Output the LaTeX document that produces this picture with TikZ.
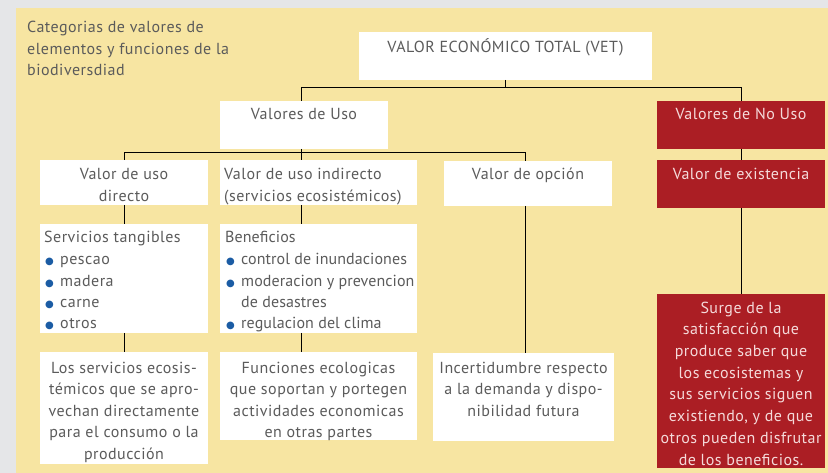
\documentclass[tikz,border=0pt]{standalone}
\usepackage{fontspec}
\setmainfont[LetterSpace=3]{PT Sans}
\newfontfamily\dejavu{DejaVu Sans}
\definecolor{bggray}{HTML}{E5E6E8}
\definecolor{panel}{HTML}{F7E5A2}
\definecolor{boxred}{HTML}{AB1E24}
\definecolor{txtgray}{HTML}{5B5B5B}
\definecolor{redtxt}{HTML}{F5DADA}
\definecolor{bulblue}{HTML}{1B5CA4}
\newcommand\bul{\makebox[16pt][l]{\hspace{1pt}{\color{bulblue}\dejavu\fontsize{10}{10}\selectfont ●}}}
\tikzset{
  box/.style={draw=none, inner sep=0pt, outer sep=0pt, anchor=north west},
  wbox/.style={box, fill=white},
  rbox/.style={box, fill=boxred},
  txt/.style={font=\fontsize{16}{21.5}\selectfont, text=txtgray, inner sep=0pt, anchor=base, align=center},
  rtxt/.style={txt, text=redtxt, font=\fontsize{16}{21.7}\selectfont},
  ltxt/.style={txt, anchor=base west, align=left},
  link/.style={draw=black, line width=1pt}
}
\begin{document}
\begin{tikzpicture}[x=1pt, y=-1pt]
\useasboundingbox (0,0) rectangle (828,473);
\fill[bggray] (0,0) rectangle (828,473);
\fill[panel] (16,8) rectangle (828,473);

% multi-line texts are anchored at the baseline of their last line
\node[ltxt] (title) at (27,76) {Categorias de valores de\\elementos y funciones de la\\biodiversdiad};

% boxes
\node[wbox, minimum width=293pt, minimum height=48pt] (vet) at (359,32) {};
\node[wbox, minimum width=168pt, minimum height=48pt] (uso) at (220,101) {};
\node[rbox, minimum width=168pt, minimum height=48pt] (nouso) at (657,101) {};
\node[wbox, minimum width=168pt, minimum height=45pt] (directo) at (40,160) {};
\node[wbox, minimum width=197pt, minimum height=45pt] (indirecto) at (220,160) {};
\node[wbox, minimum width=168pt, minimum height=45pt] (opcion) at (444,161) {};
\node[rbox, minimum width=168pt, minimum height=48pt] (exist) at (657,160) {};
\node[wbox, minimum width=168pt, minimum height=109pt] (tang) at (40,224) {};
\node[wbox, minimum width=197pt, minimum height=109pt] (benef) at (220,224) {};
\node[wbox, minimum width=168pt, minimum height=112pt] (losserv) at (40,352) {};
\node[wbox, minimum width=197pt, minimum height=88pt] (func) at (220,352) {};
\node[wbox, minimum width=181pt, minimum height=88pt] (incert) at (433,353) {};
\node[rbox, minimum width=168pt, minimum height=174pt] (surge) at (657,294) {};

% texts
\node[txt] (tvet) at (505.5,53) {VALOR ECONÓMICO TOTAL (VET)};
\node[txt] (tuso) at (304,120) {Valores de Uso};
\node[rtxt] (tnouso) at (741,120) {Valores de No Uso};
\node[txt] (tdirecto) at (124,201.5) {Valor de uso\\directo};
\node[ltxt] (tindirecto) at (224,201.5) {Valor de uso indirecto\\(servicios ecosistémicos)};
\node[txt] (topcion) at (528,180) {Valor de opción};
\node[rtxt] (texist) at (741,180) {Valor de existencia};
\node[ltxt] (ttang) at (44,329) {Servicios tangibles\\\bul pescao\\\bul madera\\\bul carne\\\bul otros};
\node[ltxt, font=\fontsize{16}{21.5}\selectfont\addfontfeature{LetterSpace=0.5}] (tbenef) at (225,329) {Beneficios\\\bul control de inundaciones\\\bul moderacion y prevencion\\\hspace{16pt}de desastres\\\bul regulacion del clima};
\node[txt] (tlosserv) at (124,459) {Los servicios ecosis-\\témicos que se apro-\\vechan directamente\\para el consumo o la\\producción};
\node[txt] (tfunc) at (318.5,437.5) {Funciones ecologicas\\que soportan y portegen\\actividades economicas\\en otras partes};
\node[txt] (tincert) at (523.5,416) {Incertidumbre respecto\\a la demanda y dispo-\\nibilidad futura};
\node[rtxt] (tsurge) at (741,465) {Surge de la\\satisfacción que\\produce saber que\\los ecosistemas y\\sus servicios siguen\\existiendo, y de que\\otros pueden disfrutar\\de los beneficios.};

% connectors
\coordinate (j1) at (505,88);
\coordinate (j2) at (301,153);
\coordinate (c3) at (525,0);
\draw[link] (vet.south) -- (vet.south |- j1);
\draw[link] (uso.north -| j2) -- (j2 |- j1) -- (nouso.north |- j1) -- (nouso.north);
\draw[link] (uso.south -| j2) -- (j2);
\draw[link] (directo.north) -- (directo.north |- j2) -- (c3 |- j2) -- (opcion.north -| c3);
\draw[link] (j2) -- (indirecto.north -| j2);
\draw[link] (directo.south) -- (tang.north);
\draw[link] (tang.south) -- (losserv.north);
\draw[link] (indirecto.south -| j2) -- (benef.north -| j2);
\draw[link] (benef.south -| j2) -- (func.north -| j2);
\draw[link] (opcion.south -| c3) -- (incert.north -| c3);
\draw[link] (nouso.south) -- (exist.north);
\draw[link] (exist.south) -- (surge.north);
\end{tikzpicture}
\end{document}
